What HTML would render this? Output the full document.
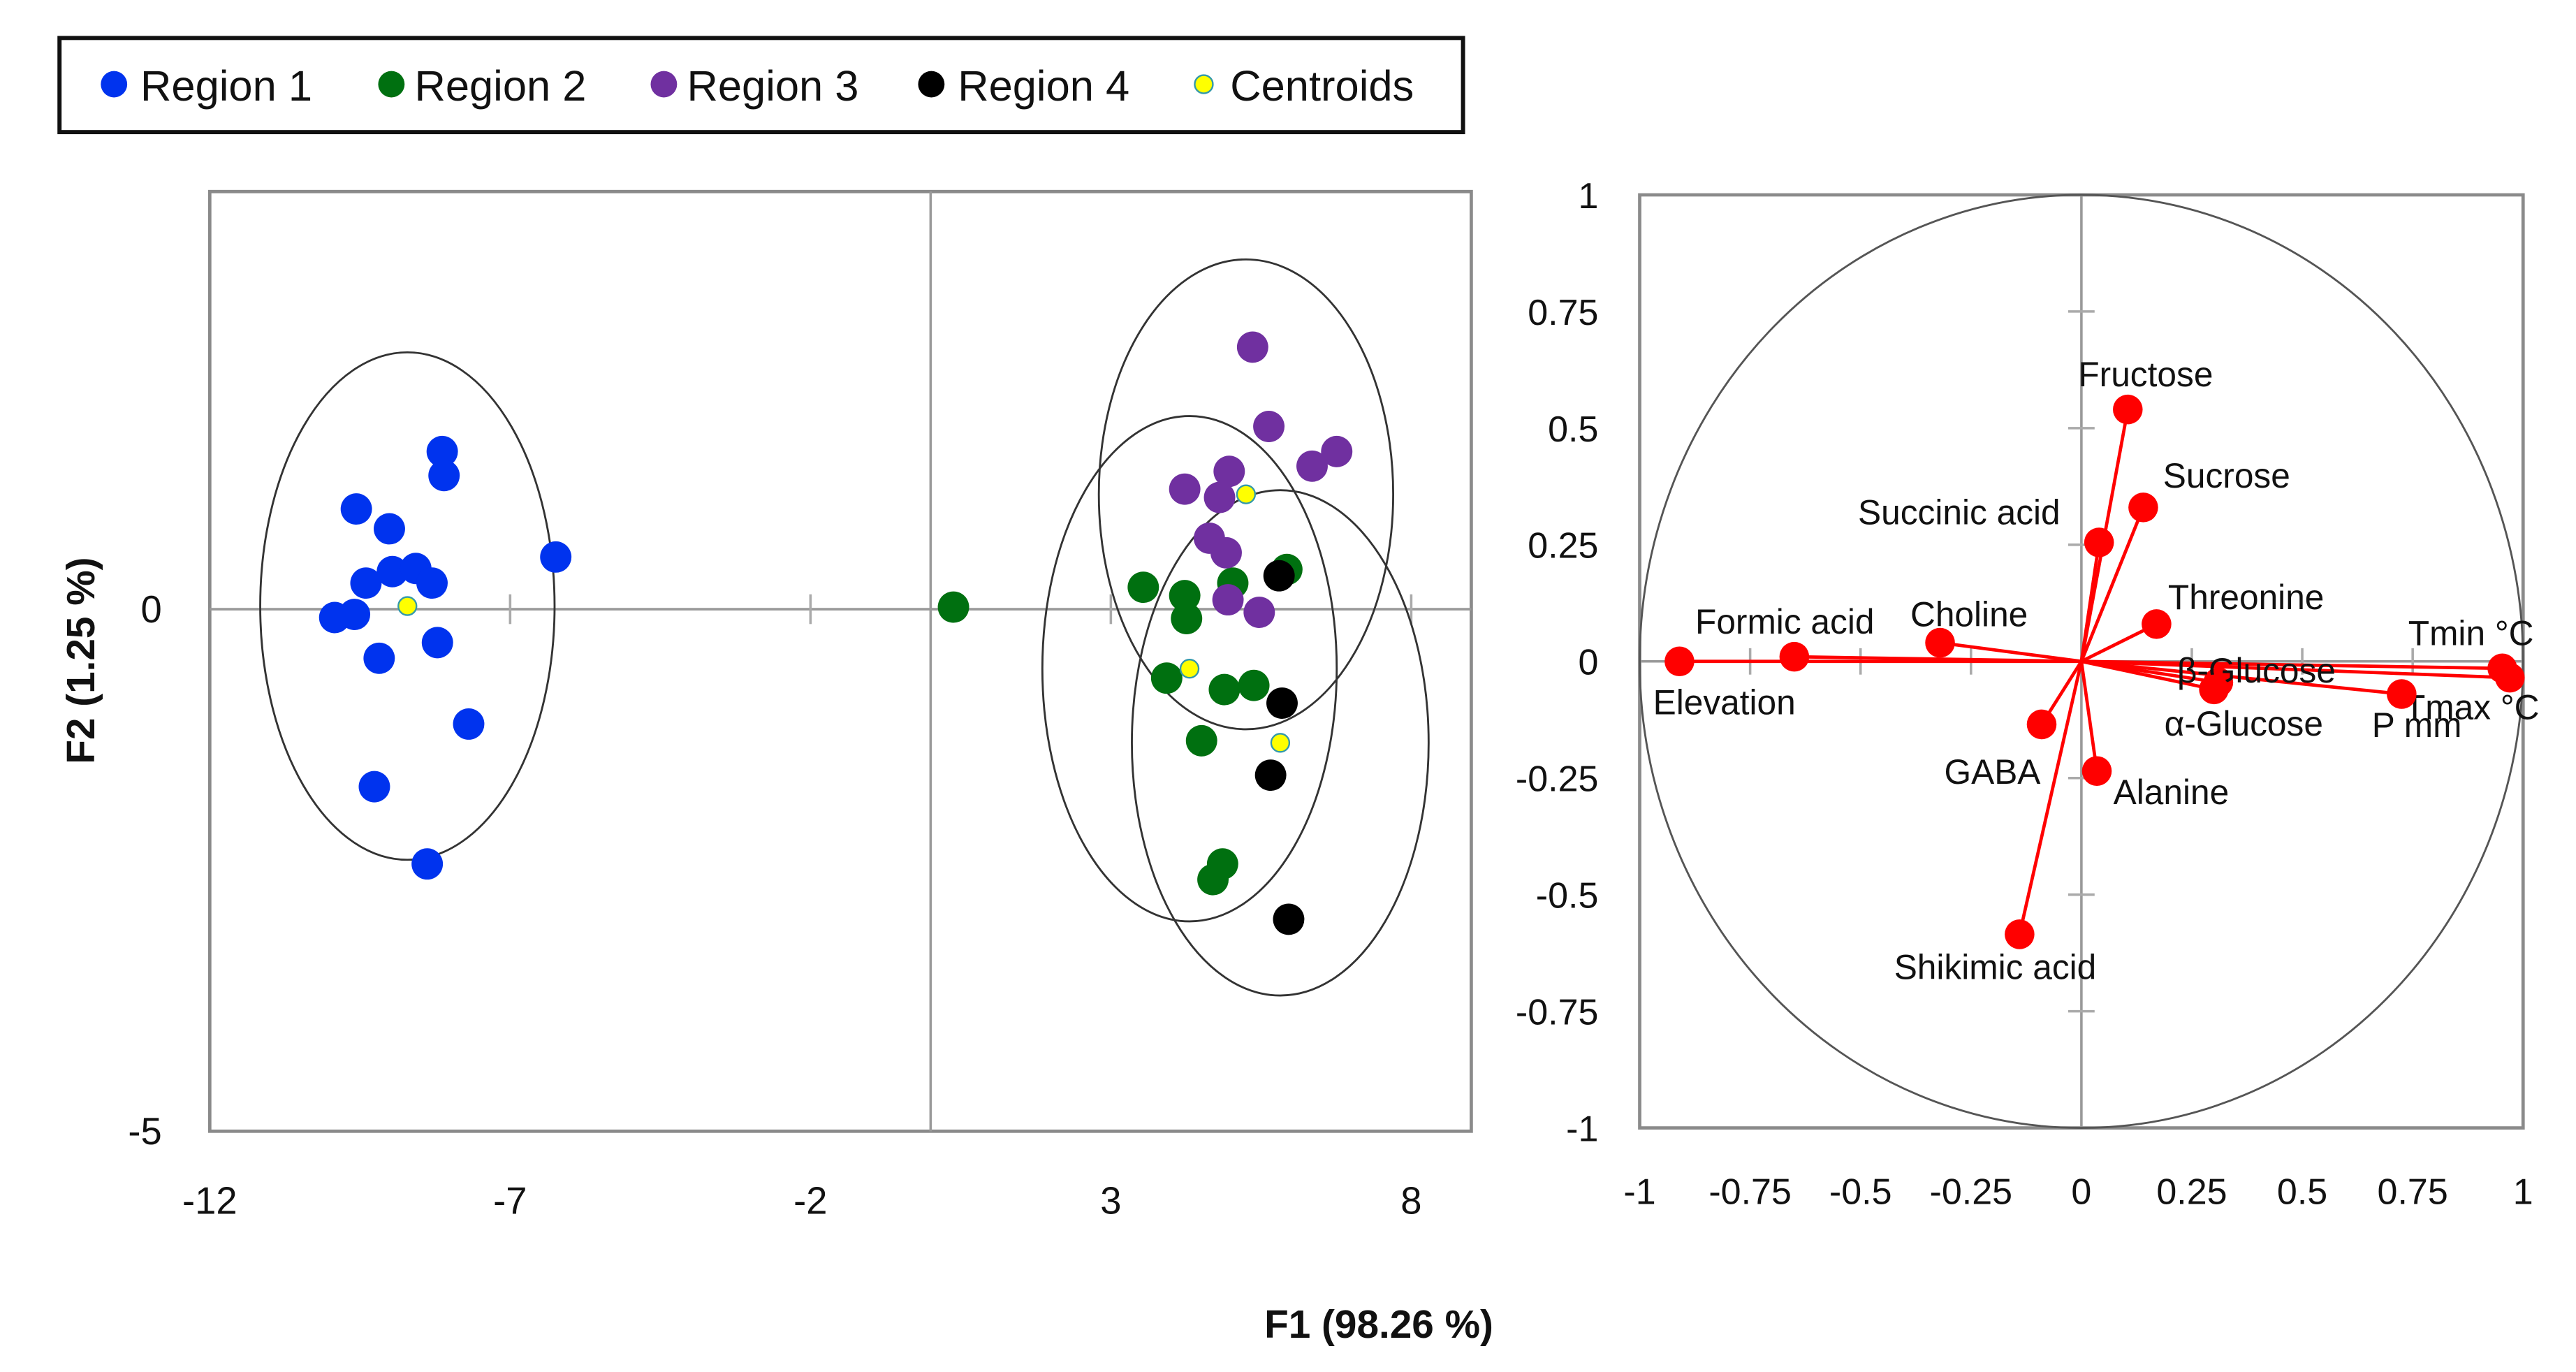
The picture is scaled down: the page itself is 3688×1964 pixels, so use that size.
<!DOCTYPE html>
<html><head><meta charset="utf-8"><style>
html,body{margin:0;padding:0;background:#fff}
svg{display:block}
text{font-family:"Liberation Sans",sans-serif;fill:#111}
</style></head><body>
<svg id="c" width="3688" height="1964" viewBox="0 0 1560 830.8">
<g>
<rect x="36" y="23" width="850" height="57" fill="#fff" stroke="#111" stroke-width="2.5"/>
<g><circle cx="69" cy="51" r="8" fill="#0033ee"/><text x="85" y="61" font-size="26">Region 1</text></g>
<g><circle cx="237" cy="51" r="8" fill="#007010"/><text x="251" y="61" font-size="26">Region 2</text></g>
<g><circle cx="402" cy="51" r="8" fill="#7030a0"/><text x="416" y="61" font-size="26">Region 3</text></g>
<g><circle cx="564" cy="51" r="8" fill="#000"/><text x="580" y="61" font-size="26">Region 4</text></g>
<g><circle cx="729" cy="51" r="5.5" fill="#ffff00" stroke="#3399aa" stroke-width="1"/><text x="745" y="61" font-size="26">Centroids</text></g>
</g>
<g id="left"></g>
<g id="right"></g>
<text x="835" y="810" font-size="24" font-weight="bold" text-anchor="middle">F1 (98.26 %)</text>
<text transform="translate(57,400) rotate(-90)" font-size="24" font-weight="bold" text-anchor="middle">F2 (1.25 %)</text>
</svg>
<script>
// ---- scores plot data ----
const r1x=[-8.13,-8.10,-9.56,-9.01,-6.24,-9.40,-8.96,-8.57,-8.30,-9.92,-9.59,-9.18,-8.21,-7.69,-9.26,-8.38];
const r1y=[1.51,1.28,0.96,0.77,0.50,0.25,0.36,0.39,0.25,-0.08,-0.05,-0.47,-0.32,-1.10,-1.70,-2.44];
const r2x=[0.38,3.54,4.23,4.26,5.03,5.93,3.93,4.89,5.38,4.51,4.86,4.70];
const r2y=[0.02,0.21,0.13,-0.09,0.25,0.38,-0.66,-0.77,-0.73,-1.26,-2.44,-2.59];
const r3x=[5.36,5.63,6.76,6.35,4.97,4.23,4.81,4.64,4.92,4.95,5.47];
const r3y=[2.51,1.75,1.51,1.37,1.32,1.15,1.07,0.68,0.54,0.09,-0.03];
const r4x=[5.80,5.85,5.66,5.96];
const r4y=[0.32,-0.90,-1.59,-2.97];
const centX=[-8.71,4.31,5.25,5.82];
const centY=[0.03,-0.57,1.10,-1.28];
const ellRx=[2.45,2.45,2.45,2.47];
const ellRy=[2.43,2.42,2.25,2.42];
const xTicks=[-12,-7,-2,3,8];
const yTicks=[0,-5];
// ---- loadings data ----
const varNames=["Elevation","Formic acid","Choline","Fructose","Sucrose","Succinic acid","Threonine","β-Glucose","α-Glucose","Tmin °C","Tmax °C","P mm","GABA","Alanine","Shikimic acid"];
const f1=[-0.91,-0.65,-0.32,0.105,0.14,0.04,0.17,0.31,0.30,0.953,0.97,0.725,-0.09,0.035,-0.14];
const f2=[0.00,0.01,0.04,0.54,0.33,0.255,0.08,-0.045,-0.06,-0.015,-0.035,-0.07,-0.135,-0.235,-0.585];
const rTicks=[-1,-0.75,-0.5,-0.25,0,0.25,0.5,0.75,1];

const NS="http://www.w3.org/2000/svg";
function mk(p,t,a){const e=document.createElementNS(NS,t);for(const k in a)e.setAttribute(k,a[k]);p.appendChild(e);return e;}
// left axes
const L=document.getElementById('left');
const X0=127,X1=891,Y0=116,Y1=685;
const sx=v=>X0+(v+12)/21*(X1-X0);
const sy=v=>Y0+(4-v)/9*(Y1-Y0);
let e;
e=mk(L,'rect',{x:X0,y:Y0,width:X1-X0,height:Y1-Y0,fill:'none',stroke:'#8a8a8a','stroke-width':2});


e=mk(L,'line',{x1:X0,x2:X1,y1:sy(0),y2:sy(0),stroke:'#999','stroke-width':1.5});


e=mk(L,'line',{x1:sx(0),x2:sx(0),y1:Y0,y2:Y1,stroke:'#999','stroke-width':1.5});


xTicks.forEach(t=>{
 if(t>-12){e=mk(L,'line',{x1:sx(t),x2:sx(t),y1:sy(0)-9,y2:sy(0)+9,stroke:'#aaa','stroke-width':1.5});
 
 }
 e=mk(L,'text',{x:sx(t),y:735,'font-size':23,'text-anchor':'middle'});e.textContent=t;
 
 
});
yTicks.forEach(t=>{
 e=mk(L,'text',{x:98,y:sy(t)+8,'font-size':23,'text-anchor':'end'});e.textContent=t;
 
 
});
const pxu=(X1-X0)/21, pyu=(Y1-Y0)/9;
centX.forEach((c,i)=>{
 e=mk(L,'ellipse',{cx:sx(c),cy:sy(centY[i]),rx:ellRx[i]*pxu,ry:ellRy[i]*pyu,fill:'none',stroke:'#333','stroke-width':1.2});
 
 
});
[[r1x,r1y,'#0033ee',1],[r2x,r2y,'#007010',2],[r3x,r3y,'#7030a0',3],[r4x,r4y,'#000',4]].forEach(([xs,ys,col,n])=>{
 xs.forEach((v,i)=>{e=mk(L,'circle',{cx:sx(v),cy:sy(ys[i]),r:9.5,fill:col});
 
 });
});
centX.forEach((c,i)=>{e=mk(L,'circle',{cx:sx(c),cy:sy(centY[i]),r:5.5,fill:'#ffff00',stroke:'#3399aa','stroke-width':1});
 
 });
// right plot
const R=document.getElementById('right');
const A0=993,A1=1528,B0=118,B1=683;
const ux=v=>A0+(v+1)/2*(A1-A0);
const uy=v=>B0+(1-v)/2*(B1-B0);
e=mk(R,'rect',{x:A0,y:B0,width:A1-A0,height:B1-B0,fill:'none',stroke:'#8a8a8a','stroke-width':2});


e=mk(R,'line',{x1:A0,x2:A1,y1:uy(0),y2:uy(0),stroke:'#999','stroke-width':1.5});


e=mk(R,'line',{x1:ux(0),x2:ux(0),y1:B0,y2:B1,stroke:'#999','stroke-width':1.5});


rTicks.forEach(t=>{
 if(Math.abs(t)<1&&t!==0){
 e=mk(R,'line',{x1:ux(t),x2:ux(t),y1:uy(0)-8,y2:uy(0)+8,stroke:'#aaa','stroke-width':1.5});
 
 
 e=mk(R,'line',{x1:ux(0)-8,x2:ux(0)+8,y1:uy(t),y2:uy(t),stroke:'#aaa','stroke-width':1.5});
 
 }
 e=mk(R,'text',{x:ux(t),y:729,'font-size':22,'text-anchor':'middle'});e.textContent=t;
 
 
 e=mk(R,'text',{x:968,y:uy(t)+8,'font-size':22,'text-anchor':'end'});e.textContent=t;
 
 
});
e=mk(R,'ellipse',{cx:ux(0),cy:uy(0),rx:(A1-A0)/2,ry:(B1-B0)/2,fill:'none',stroke:'#555','stroke-width':1.2});


const lblOff=[[-16,32,'start'],[-60,-14,'start'],[-18,-10,'start'],[-30,-14,'start'],[12,-12,'start'],[-146,-11,'start'],[7,-9,'start'],[-25,0,'start'],[-30,28,'start'],[-57,-14,'start'],[-64,25,'start'],[-18,26,'start'],[-59,36,'start'],[10,20,'start'],[-76,27,'start']];
f1.forEach((v,i)=>{
 e=mk(R,'line',{x1:ux(0),y1:uy(0),x2:ux(v),y2:uy(f2[i]),stroke:'#ff0000','stroke-width':2});
 
 
});
f1.forEach((v,i)=>{
 e=mk(R,'circle',{cx:ux(v),cy:uy(f2[i]),r:9,fill:'#ff0000'});
 
 
 const o=lblOff[i];
 e=mk(R,'text',{x:ux(v)+o[0],y:uy(f2[i])+o[1],'font-size':21,'text-anchor':o[2],fill:'#333'});e.textContent=varNames[i];
 
 
});
</script>
</body></html>
